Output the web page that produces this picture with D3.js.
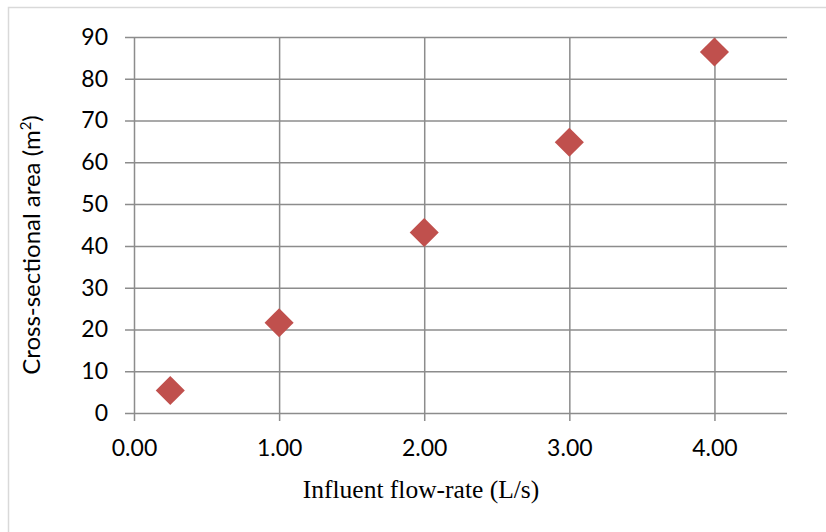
<!DOCTYPE html>
<html>
<head>
<meta charset="utf-8">
<script src="https://cdn.jsdelivr.net/npm/d3@7"></script>
<style>
  html, body { margin: 0; padding: 0; background: #fff; }
  #chart { width: 826px; height: 532px; }
</style>
</head>
<body>
<div id="chart"></div>
<script>
// data
const flowRates = [0.25, 1, 2, 3, 4];          // L/s
const areas     = [5.4, 21.6, 43.2, 64.8, 86.4]; // m2
const xTicks    = [0, 1, 2, 3, 4];
const yTicks    = [0, 10, 20, 30, 40, 50, 60, 70, 80, 90];

const width = 826, height = 532;
const margin = {left: 134, right: 39, top: 37, bottom: 119};
const sans = "Lato, 'Open Sans', sans-serif";

const svg = d3.select("#chart").append("svg")
  .attr("width", width).attr("height", height);

// outer chart-area frame (runs off right/bottom edges)
svg.append("rect")
  .attr("x", 8.5).attr("y", 7.5)
  .attr("width", width).attr("height", height)
  .attr("fill", "none").attr("stroke", "#d9d9d9").attr("stroke-width", 1.5);

const x = d3.scaleLinear().domain([0, 4.5]).range([margin.left, width - margin.right]);
const y = d3.scaleLinear().domain([0, 90]).range([height - margin.bottom, margin.top]);

const gridColor = "#8c8c8c";

// horizontal gridlines + y ticks
const yAxis = svg.append("g")
  .attr("transform", `translate(${margin.left},0)`)
  .call(d3.axisLeft(y).tickValues(yTicks).tickSize(-(x.range()[1] - margin.left)).tickSizeOuter(0).tickPadding(26));
yAxis.select(".domain").remove();
yAxis.selectAll(".tick line").attr("x1", -9).attr("stroke", gridColor).attr("stroke-width", 1.5);
yAxis.selectAll(".tick text")
  .attr("font-family", sans).attr("font-size", 23).attr("fill", "#000");

// vertical gridlines + x ticks
const xAxis = svg.append("g")
  .attr("transform", `translate(0,${y(0)})`)
  .call(d3.axisBottom(x).tickValues(xTicks).tickFormat(d3.format(".2f"))
    .tickSize(-(y(0) - margin.top)).tickSizeOuter(0).tickPadding(27));
xAxis.select(".domain").remove();
xAxis.selectAll(".tick line").attr("y1", 8).attr("stroke", gridColor).attr("stroke-width", 1.5);
xAxis.selectAll(".tick text")
  .attr("font-family", sans).attr("font-size", 23).attr("fill", "#000");

// markers
const diamond = d3.symbol().type(d3.symbolDiamond2).size(540);
svg.append("g").selectAll("path")
  .data(flowRates.map((f, i) => ({f, a: areas[i]})))
  .join("path")
    .attr("transform", d => `translate(${x(d.f)},${y(d.a)})`)
    .attr("d", diamond)
    .attr("fill", "#c0504d");

// axis titles
svg.append("text")
  .attr("x", 421).attr("y", 498)
  .attr("text-anchor", "middle")
  .attr("font-family", "'Liberation Serif', 'DejaVu Serif', serif")
  .attr("font-size", 25.5)
  .text("Influent flow-rate (L/s)");

const yt = svg.append("text")
  .attr("transform", `translate(40,${(y(0) + y(90)) / 2 + 20}) rotate(-90)`)
  .attr("text-anchor", "middle")
  .attr("font-family", sans)
  .attr("font-size", 24);
yt.append("tspan").text("Cross-sectional area (m");
yt.append("tspan").attr("font-size", 15).attr("dy", -9).text("2");
yt.append("tspan").attr("dy", 9).text(")");
</script>
</body>
</html>
